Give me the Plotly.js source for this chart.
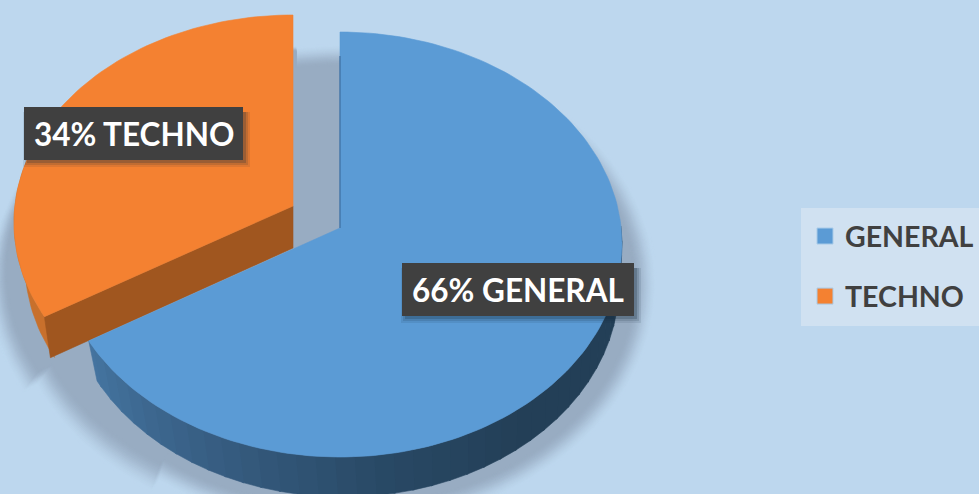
<!DOCTYPE html>
<html><head><meta charset="utf-8">
<script src="https://cdn.plot.ly/plotly-3.0.1.min.js"></script>
<style>html,body{margin:0;padding:0;background:#bdd7ee}#c{width:979px;height:494px}</style>
</head><body><div id="c"></div>
<script>
const categories = ["GENERAL", "TECHNO"];
const shares = [66, 34];
const colors = ["#5b9bd5", "#f48131"];
const labelTexts = ["66% GENERAL", "34% TECHNO"];

const W = 979, H = 494;
const cx = 340, cy = 244.5, rx = 282, ry = 212.5;
const apexY = 228;
const boundarySkew = 5.4;
const pullO = [-47, -22];
const shrinkO = [-3, -5];
const bgRGB = [189, 215, 238], shRGB = [152, 172, 194];

const boundary = shares[0] / (shares[0] + shares[1]) * 360 + boundarySkew;
const rad = d => d * Math.PI / 180;
function arc(a0, a1, ox, oy, drx, dry, ccx, ccy) {
  const n = Math.max(2, Math.ceil(Math.abs(a1 - a0) / 1.5));
  const xs = [], ys = [];
  for (let i = 0; i <= n; i++) {
    const a = rad(a0 + (a1 - a0) * i / n);
    xs.push((ccx ?? cx) + ox + (rx + drx) * Math.sin(a));
    ys.push((ccy ?? cy) + oy - (ry + dry) * Math.cos(a));
  }
  return [xs, ys];
}
function wedge(a0, a1, ox, oy, kx, ky) {
  const [xs, ys] = arc(a0, a1, ox, oy, kx || 0, ky ?? kx ?? 0);
  xs.unshift(cx + ox); ys.unshift(apexY + oy);
  xs.push(cx + ox); ys.push(apexY + oy);
  return [xs, ys];
}
const poly = (xs, ys, color) => ({
  type: "scatter", mode: "lines", x: xs, y: ys, fill: "toself", fillcolor: color,
  line: { width: 0.6, color: color }, hoverinfo: "skip", showlegend: false
});
const mix = (a, b, t) => `rgb(${a.map((v, i) => Math.round(v + (b[i] - v) * t)).join(",")})`;

const traces = [];
// soft shadow, outer layers first
const blurSteps = 20;
for (let s = blurSteps; s >= 0; s--) {
  const t = 1 - s / blurSteps;
  const c = mix(bgRGB, shRGB, t * t * (3 - 2 * t));
  const k = 8 + s * 1.2;
  [
    wedge(0, boundary, 3, 40, k),
    wedge(boundary, 360, -44, 26 + s * 0.7, k * 0.8),
    wedge(boundary, 360, 0, 34, s * 1.1),
    wedge(boundary - 30, boundary + 25, -22, 34 + s * 0.7, k * 0.8)
  ].forEach(p => traces.push(poly(p[0], p[1], c)));
}
// blue side wall
const bcx = 343, brx = 276 - rx, bcy = cy + 40;
const stops = [[243, [68, 116, 160]], [205, [54, 92, 128]], [170, [40, 72, 100]], [140, [35, 63, 87]], [80, [35, 63, 87]]];
function sideColor(a) {
  for (let i = 0; i < stops.length - 1; i++) {
    if (a <= stops[i][0] && a >= stops[i + 1][0]) {
      return mix(stops[i][1], stops[i + 1][1], (stops[i][0] - a) / (stops[i][0] - stops[i + 1][0]));
    }
  }
  return mix(stops[4][1], stops[4][1], 0);
}
for (let a = 85; a < boundary; a += 4) {
  const e = Math.min(a + 4.4, boundary);
  const top = arc(a, e, 0, 0, 0, 0);
  const bot = arc(e, a, 0, 0, brx, 0, bcx, bcy);
  traces.push(poly([...top[0], ...bot[0]], [...top[1], ...bot[1]], sideColor((a + e) / 2)));
}
// orange walls
const ox = pullO[0], oy = pullO[1], od = 41;
{
  const top = arc(boundary, 292, ox, oy, shrinkO[0], shrinkO[1]);
  const bot = arc(292, boundary, ox + 5, oy + od, shrinkO[0] - 6, shrinkO[1]);
  traces.push(poly([...top[0], ...bot[0]], [...top[1], ...bot[1]], "#c8702c"));
  const ca = arc(boundary, boundary, ox, oy, shrinkO[0], shrinkO[1]);
  const px = ca[0][0], py = ca[1][0];
  traces.push(poly([px, cx + ox, cx + ox, px + 6, px], [py, apexY + oy, apexY + oy + od + 1, py + od, py], "#a0561f"));
}
// top faces
const o = wedge(boundary, 360, ox, oy, shrinkO[0], shrinkO[1]);
traces.push(poly(o[0], o[1], colors[1]));
const g = wedge(0, boundary, 0, 0, 0);
traces.push(poly(g[0], g[1], colors[0]));
// seam on the blue cut edge
traces.push({ type: "scatter", mode: "lines", x: [cx, cx], y: [cy - ry + 24, apexY], line: { color: "#3f6f9f", width: 1.2 }, hoverinfo: "skip", showlegend: false });
// legend entries
categories.forEach((name, i) => traces.push({
  type: "scatter", mode: "markers", name, x: [null], y: [null], legendgroup: name,
  marker: { symbol: "square", size: 18, color: colors[i], line: { width: 1, color: "#a9cbe8" } }, hoverinfo: "skip"
}));

const boxes = [[402, 263, 634, 316], [24, 107, 243, 160]];
const shapes = [{
  type: "rect", xref: "x", yref: "y", x0: 801, x1: 985, y0: 208, y1: 326, layer: "below",
  fillcolor: "#d0e1f1", line: { width: 0 }
}];
boxes.forEach(b => {
  [[7, 0.10], [5, 0.14], [3, 0.22]].forEach(([k, al]) => shapes.push({
    type: "rect", xref: "x", yref: "y", x0: b[0] + 3 - k + 3, x1: b[2] + k, y0: b[1] + 5, y1: b[3] + k,
    layer: "above", fillcolor: `rgba(20,40,60,${al})`, line: { width: 0 }
  }));
  shapes.push({ type: "rect", xref: "x", yref: "y", x0: b[0], x1: b[2], y0: b[1], y1: b[3], layer: "above", fillcolor: "#404040", line: { width: 0 } });
});
const annotations = labelTexts.map((text, i) => ({
  text, xref: "x", yref: "y", x: (boxes[i][0] + boxes[i][2]) / 2, y: (boxes[i][1] + boxes[i][3]) / 2,
  showarrow: false, font: { family: "Lato", size: 31.5, color: "#ffffff", weight: 700 }
}));

const layout = {
  width: W, height: H, margin: { l: 0, r: 0, t: 0, b: 0, autoexpand: false },
  paper_bgcolor: "#bdd7ee", plot_bgcolor: "#bdd7ee",
  xaxis: { range: [0, W], visible: false, fixedrange: true },
  yaxis: { range: [H, 0], visible: false, fixedrange: true },
  showlegend: true,
  legend: {
    x: 805 / W, y: 1 - 211 / H, xanchor: "left", yanchor: "top", bgcolor: "rgba(0,0,0,0)",
    font: { family: "Lato", size: 28.5, color: "#404040", weight: 700 },
    tracegroupgap: 20, itemwidth: 30, itemclick: false, itemdoubleclick: false
  },
  shapes, annotations
};
Plotly.newPlot("c", traces, layout, { displayModeBar: false, staticPlot: true });
</script></body></html>
